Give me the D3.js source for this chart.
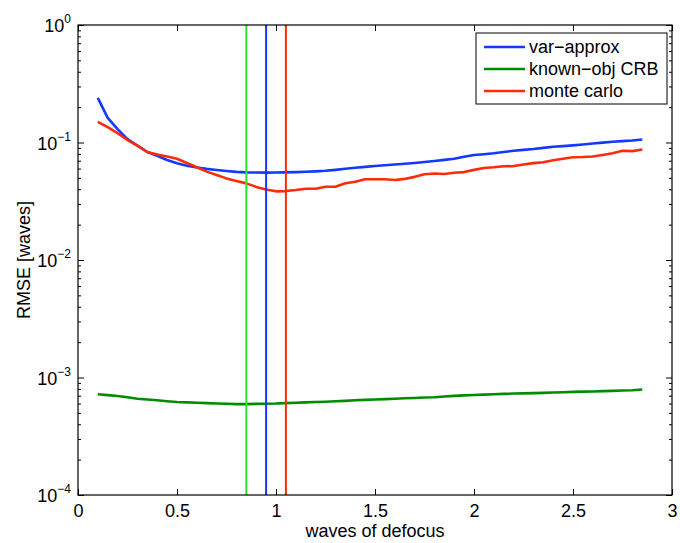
<!DOCTYPE html>
<html>
<head>
<meta charset="utf-8">
<script src="https://cdn.jsdelivr.net/npm/d3@7"></script>
<style>
  body { margin: 0; background: #fff; }
  text { font-family: "Liberation Sans", Arial, Helvetica, sans-serif; fill: #000; }
</style>
</head>
<body>
<div id="chart"></div>
<script>
// waves of defocus (x samples)
const defocus = [0.10, 0.15, 0.20, 0.25, 0.30, 0.35, 0.40, 0.45, 0.50, 0.55,
                 0.60, 0.65, 0.70, 0.75, 0.80, 0.85, 0.90, 0.95, 1.00, 1.05,
                 1.10, 1.15, 1.20, 1.25, 1.30, 1.35, 1.40, 1.45, 1.50, 1.55,
                 1.60, 1.65, 1.70, 1.75, 1.80, 1.85, 1.90, 1.95, 2.00, 2.05,
                 2.10, 2.15, 2.20, 2.25, 2.30, 2.35, 2.40, 2.45, 2.50, 2.55,
                 2.60, 2.65, 2.70, 2.75, 2.80, 2.85];

const varApprox = [0.240, 0.162, 0.130, 0.107, 0.094, 0.083, 0.077, 0.071, 0.0665, 0.0635,
                   0.0612, 0.0596, 0.0584, 0.0572, 0.0562, 0.0557, 0.0555, 0.0554, 0.0556, 0.0557,
                   0.0560, 0.0563, 0.0568, 0.0575, 0.0585, 0.0597, 0.0610, 0.0620, 0.0630, 0.0640,
                   0.0650, 0.0660, 0.0670, 0.0683, 0.0697, 0.0712, 0.0728, 0.0755, 0.0783, 0.0795,
                   0.0810, 0.0830, 0.0850, 0.0865, 0.0880, 0.0900, 0.0920, 0.0932, 0.0945, 0.0962,
                   0.0980, 0.0998, 0.1016, 0.1028, 0.1040, 0.1060];

const knownObjCRB = [7.20e-4, 7.08e-4, 6.96e-4, 6.78e-4, 6.60e-4, 6.50e-4, 6.40e-4, 6.28e-4, 6.18e-4, 6.14e-4,
                     6.10e-4, 6.05e-4, 6.00e-4, 5.97e-4, 5.94e-4, 5.94e-4, 5.96e-4, 5.98e-4, 6.00e-4, 6.05e-4,
                     6.10e-4, 6.14e-4, 6.18e-4, 6.22e-4, 6.27e-4, 6.33e-4, 6.40e-4, 6.45e-4, 6.50e-4, 6.55e-4,
                     6.60e-4, 6.65e-4, 6.70e-4, 6.75e-4, 6.80e-4, 6.90e-4, 6.98e-4, 7.04e-4, 7.10e-4, 7.15e-4,
                     7.20e-4, 7.25e-4, 7.30e-4, 7.33e-4, 7.36e-4, 7.40e-4, 7.45e-4, 7.50e-4, 7.55e-4, 7.58e-4,
                     7.60e-4, 7.65e-4, 7.70e-4, 7.75e-4, 7.80e-4, 7.90e-4];

const monteCarlo = [0.150, 0.135, 0.120, 0.105, 0.094, 0.083, 0.079, 0.076, 0.0728, 0.0670,
                    0.0615, 0.0565, 0.0529, 0.0495, 0.0470, 0.0449, 0.0419, 0.0398, 0.0384, 0.0386,
                    0.0394, 0.0404, 0.0404, 0.0420, 0.0420, 0.0450, 0.0464, 0.0486, 0.0486, 0.0486,
                    0.0480, 0.0490, 0.0510, 0.0537, 0.0544, 0.0540, 0.0552, 0.0560, 0.0585, 0.0607,
                    0.0615, 0.0627, 0.0630, 0.0650, 0.0668, 0.0680, 0.0707, 0.0728, 0.0748, 0.0752,
                    0.0760, 0.0783, 0.0810, 0.0850, 0.0845, 0.0873];

// best-focus markers (vertical lines)
const optimumNames = ["known-obj CRB", "var-approx", "monte carlo"];
const optimumDefocus = [0.85, 0.95, 1.05];

const seriesNames = ["var\u2212approx", "known\u2212obj CRB", "monte carlo"];
const xTicks = [0, 0.5, 1, 1.5, 2, 2.5, 3];
const yTickExp = [0, -1, -2, -3, -4];

const width = 680, height = 543;
const margin = {top: 25, right: 8, bottom: 48, left: 78};
const w = width - margin.left - margin.right;
const h = height - margin.top - margin.bottom;

const colors = {"var\u2212approx": "#1438ff", "known\u2212obj CRB": "#008c00", "monte carlo": "#ff2a0a"};
const vColors = {"known-obj CRB": "#2ae82a", "var-approx": "#1438ff", "monte carlo": "#ff2a0a"};

const svg = d3.select("#chart").append("svg")
    .attr("width", width)
    .attr("height", height);

const g = svg.append("g")
    .attr("transform", "translate(" + margin.left + "," + margin.top + ")");

const x = d3.scaleLinear().domain([0, 3]).range([0, w]);
const y = d3.scaleLog().domain([1e-4, 1]).range([h, 0]);

const minorTicks = [];
yTickExp.slice(0, 4).forEach(e => {
    for (let k = 2; k <= 9; k++) minorTicks.push(k * Math.pow(10, e - 1));
});
const majorY = yTickExp.map(e => Math.pow(10, e));

// data lines
const series = [
    {name: seriesNames[0], values: varApprox},
    {name: seriesNames[1], values: knownObjCRB},
    {name: seriesNames[2], values: monteCarlo}
];

const line = d3.line()
    .x((d, i) => x(defocus[i]))
    .y(d => y(d));

g.selectAll(".curve")
    .data(series)
    .enter()
    .append("path")
    .attr("class", "curve")
    .attr("d", d => line(d.values))
    .attr("fill", "none")
    .attr("stroke", d => colors[d.name])
    .attr("stroke-width", 2.6)
    .attr("stroke-linejoin", "round");

// vertical optimum lines
g.selectAll(".vline")
    .data(optimumDefocus)
    .enter()
    .append("line")
    .attr("x1", d => x(d))
    .attr("x2", d => x(d))
    .attr("y1", 0)
    .attr("y2", h)
    .attr("stroke", (d, i) => vColors[optimumNames[i]])
    .attr("stroke-width", 2);

// axes (ticks point inwards, matlab style)
function styleAxis(sel) {
    sel.select(".domain").remove();
    sel.selectAll("line").attr("stroke", "#000").attr("stroke-width", 1);
}

g.append("g")
    .attr("transform", "translate(0," + h + ")")
    .call(d3.axisBottom(x).tickValues(xTicks).tickSizeInner(-6).tickSizeOuter(0).tickPadding(9)
        .tickFormat(d3.format("")))
    .call(styleAxis)
    .selectAll("text")
        .attr("font-size", 18)
        .attr("dy", "0.71em");

g.append("g")
    .call(d3.axisTop(x).tickValues(xTicks).tickSizeInner(-6).tickSizeOuter(0).tickFormat(""))
    .call(styleAxis);

const yLeft = g.append("g")
    .call(d3.axisLeft(y).tickValues(majorY).tickSizeInner(-6).tickSizeOuter(0).tickFormat(""))
    .call(styleAxis);
g.append("g")
    .call(d3.axisLeft(y).tickValues(minorTicks).tickSizeInner(-3).tickSizeOuter(0).tickFormat(""))
    .call(styleAxis);
g.append("g")
    .attr("transform", "translate(" + w + ",0)")
    .call(d3.axisRight(y).tickValues(majorY).tickSizeInner(-6).tickSizeOuter(0).tickFormat(""))
    .call(styleAxis);
g.append("g")
    .attr("transform", "translate(" + w + ",0)")
    .call(d3.axisRight(y).tickValues(minorTicks).tickSizeInner(-3).tickSizeOuter(0).tickFormat(""))
    .call(styleAxis);

// y tick labels with superscripts
const ylab = yLeft.selectAll(".tick")
    .append("text")
    .attr("x", -7)
    .attr("text-anchor", "end")
    .attr("font-size", 18);
ylab.each(function(d) {
    const t = d3.select(this);
    const e = Math.round(Math.log10(d));
    t.append("tspan").attr("dy", 6.5).text("10");
    t.append("tspan").attr("dy", -9).attr("font-size", 12)
        .text(e === 0 ? "0" : "\u2212" + Math.abs(e));
});

// box
g.append("rect")
    .attr("width", w)
    .attr("height", h)
    .attr("fill", "none")
    .attr("stroke", "#000")
    .attr("stroke-width", 1.2);

// axis labels
svg.append("text")
    .attr("x", margin.left + w / 2)
    .attr("y", 537)
    .attr("text-anchor", "middle")
    .attr("font-size", 18)
    .text("waves of defocus");

svg.append("text")
    .attr("transform", "translate(30," + (margin.top + h / 2) + ") rotate(-90)")
    .attr("text-anchor", "middle")
    .attr("font-size", 18)
    .text("RMSE [waves]");

// legend
const legend = svg.append("g").attr("transform", "translate(476,33)");
legend.append("rect")
    .attr("width", 191)
    .attr("height", 71)
    .attr("fill", "#fff")
    .attr("stroke", "#000")
    .attr("stroke-width", 1);

const rowY = d3.scalePoint().domain(seriesNames).range([14, 58]);

const rows = legend.selectAll(".lg")
    .data(seriesNames)
    .enter()
    .append("g")
    .attr("transform", d => "translate(0," + rowY(d) + ")");

rows.append("line")
    .attr("x1", 8).attr("x2", 49)
    .attr("stroke", d => colors[d])
    .attr("stroke-width", 2.6);

rows.append("text")
    .attr("x", 53)
    .attr("dy", "0.36em")
    .attr("font-size", 18)
    .text(d => d);
</script>
</body>
</html>
